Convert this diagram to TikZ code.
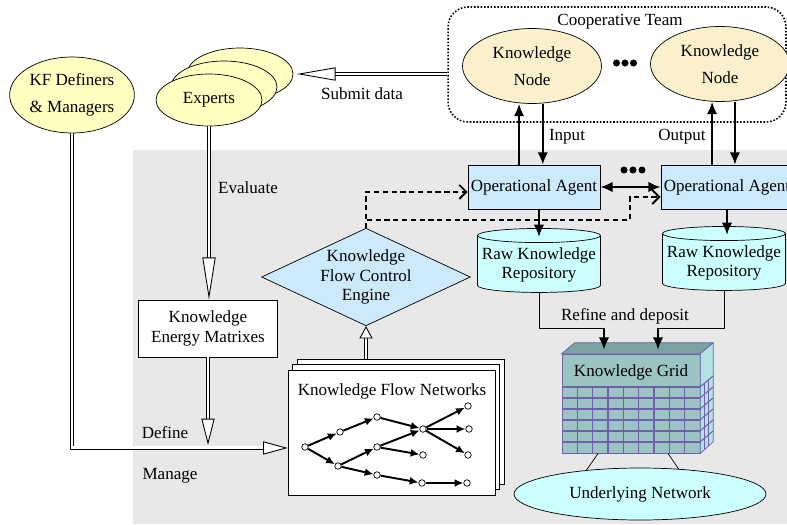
\documentclass[tikz,border=0pt]{standalone}
\usepackage{fontspec}
\setmainfont{Liberation Serif}
\usepackage{tikz}
\usetikzlibrary{shapes.geometric,
                calc, %for offsets from anchors
                arrows.meta, % for open and solid tips
                positioning}

\definecolor{panelgray}{HTML}{E8E8E8}
\definecolor{kfyellow}{HTML}{FFFFC2}
\definecolor{nodewheat}{HTML}{FBF0CC}
\definecolor{agentblue}{HTML}{CCEAFB}
\definecolor{repocyan}{HTML}{CCFFFF}
\definecolor{gridfront}{HTML}{9CC4C4}
\definecolor{gridtop}{HTML}{7BA3A3}
\definecolor{gridside}{HTML}{B4E2E2}
\definecolor{gridline}{HTML}{6F62AA}

\begin{document}
\begin{tikzpicture}[x=0.02cm, y=-0.02cm,
                    font=\fontsize{9.7}{11.2}\selectfont,
                    every node/.style={inner sep=1pt},
                    actor/.style={draw, ellipse, fill=kfyellow, align=center},
                    knode/.style={draw, ellipse, fill=nodewheat, align=center, minimum width=2.78cm, minimum height=1.5cm},
                    agent/.style={draw, fill=agentblue, minimum width=2.64cm, minimum height=0.88cm},
                    repo/.style={draw, cylinder, shape border rotate=90, aspect=0.12, fill=repocyan, align=center, minimum width=2.46cm, minimum height=1.28cm},
                    page/.style={draw, fill=white, minimum width=4.14cm, minimum height=2.5cm},
                    fnode/.style={draw, circle, fill=white, inner sep=0pt, minimum size=0.13cm},
                    flow/.style={-{Latex[length=5pt,width=4.5pt]}, line width=1.1pt},
                    bold/.style={-{Latex[length=7pt,width=6pt]}, line width=1.3pt},
                    ctrl/.style={dashed, dash pattern=on 3pt off 2pt, line width=1.1pt, -{Straight Barb[length=4pt,width=8pt]}},
                    hollow/.style={double, double distance=1.7pt, line width=0.5pt, -{Triangle[open, fill=white, length=#1, width=7.5pt]}},
                    hollow/.default=14pt
                    ]

    \clip (0,0) rectangle (787,524);

    % BACKGROUND PANEL %
    \fill[panelgray] (133,150) rectangle (787,524);

    % COOPERATIVE TEAM %
    \node[draw, densely dotted, line width=0.9pt, rounded corners=0.4cm,
          minimum width=6.76cm, minimum height=2.3cm] (team) at (617,64.5) {};
    \node (teamlbl) at (620,22) {Cooperative Team};
    \node[knode] (kn1) at (532,66) {Knowledge\\[4pt]Node};
    \node[knode] (kn2) at (720,64) {Knowledge\\[4pt]Node};
    \foreach \x in {-1,0,1}
    \fill (625+8.5*\x,63) circle (2pt);

    % EXPERTS AND MANAGERS %
    \foreach \x/\y/\n in {240/74/3, 224/87/2}
    \node[actor, minimum width=2.12cm, minimum height=1.04cm] (exp\n) at (\x,\y) {};
    \node[actor, minimum width=2.12cm, minimum height=1.04cm] (exp) at (209,100) {Experts};
    \node[actor, minimum width=2.46cm, minimum height=1.52cm] (kf) at (72,95) {KF Definers\\[4pt]\& Managers};

    \draw[hollow=22pt] (team.west |- exp3.east) -- ([xshift=2pt]exp3.east);
    \node (submitlbl) at (362,94) {Submit data};

    % EVALUATE AND DEFINE %
    \node[draw, fill=white, align=center, minimum width=2.78cm, minimum height=1.14cm] (kem) at (208,328.5) {Knowledge\\Energy Matrixes};
    \draw[hollow=24pt] (exp.south) -- (exp.south |- kem.north);
    \node (evallbl) at (248,188) {Evaluate};

    % KNOWLEDGE FLOW NETWORKS %
    \foreach \x/\y/\n in {400.5/421.5/3, 396/427/2, 391.5/432.5/1}
    \node[page] (kfn\n) at (\x,\y) {};
    \node (kfnlbl) at (392,391) {Knowledge Flow Networks};

    \foreach \n/\x/\y in {0/305/447, 1/340/432, 2/338/466, 3/377/417, 4/377/447, 5/377/475,
                          6/423/429, 7/423/455, 8/422/483, 9/468/406, 10/469/429, 11/468/455, 12/467/483}
    \node[fnode] (f\n) at (\x,\y) {};
    \foreach \a/\b in {0/1,0/2,1/3,2/4,2/5,3/6,4/6,4/7,5/8,6/9,6/10,6/11,8/12}
    \draw[flow] (f\a) -- (f\b);

    \coordinate (merge) at (208,445);
    \draw[hollow] (kf.south) |- ([yshift=-8.8pt]kfn1.west);
    \draw[hollow=15pt] (kem.south) -- (merge);
    \node (deflbl) at (165,433) {Define};
    \node (manlbl) at (170,476) {Manage};

    % CONTROL ENGINE %
    \node[diamond, draw, fill=agentblue, aspect=2.14, inner sep=0pt, align=center,
          minimum width=4.16cm, minimum height=1.94cm] (kfce) at (366,277) {Knowledge\\Flow Control\\Engine};
    \draw[hollow=7pt] (kfn3.north -| kfce.south) -- (kfce.south);

    % AGENTS %
    \node[agent] (oa1) at (534,187) {Operational Agent};
    \node[agent] (oa2) at (727,187) {Operational Agent};
    \draw[bold, {Latex[length=7pt,width=6pt]}-{Latex[length=7pt,width=6pt]}] (oa1.east) -- (oa2.west);
    \foreach \x in {-1,0,1}
    \fill (633+9*\x,170) circle (2pt);

    \draw[bold] ([xshift=-8.5pt]oa1.north) -- ([xshift=-8.5pt]oa1.north |- kn1.south);
    \draw[bold] ([xshift=5pt]oa1.north |- kn1.south) -- ([xshift=5pt]oa1.north);
    \draw[bold] ([xshift=-8.5pt]oa2.north) -- ([xshift=-8.5pt]oa2.north |- kn2.south);
    \draw[bold] ([xshift=4.5pt]oa2.north |- kn2.south) -- ([xshift=4.5pt]oa2.north);
    \node (inlbl) at (567,137) {Input};
    \node (outlbl) at (682,137) {Output};

    \draw[ctrl] (kfce.north) |- ([yshift=-2.8pt]oa1.west);
    \draw[ctrl] (kfce.north) -- ++(0,-8) -| ([xshift=-17.6pt,yshift=-5.7pt]oa2.west) -- ([yshift=-5.7pt]oa2.west);

    % REPOSITORIES %
    \node[repo] (rkr1) at (539,265) {Raw Knowledge\\Repository};
    \node[repo] (rkr2) at (724,263) {Raw Knowledge\\Repository};
    \draw[bold] (oa1.south -| rkr1.north) -- ([yshift=-5pt]rkr1.north);
    \draw[bold] (oa2.south) -- ([yshift=-5pt]oa2.south |- rkr2.north);

    % KNOWLEDGE GRID %
    \node[draw=gridline, fill=gridfront, minimum width=2.76cm, minimum height=1.98cm] (grid) at (631,403.5) {};
    \filldraw[draw=gridline, fill=gridtop] (grid.north west) -- ++(13,-11) -- ++(138,0) -- (grid.north east) -- cycle;
    \filldraw[draw=gridline, fill=gridside] (grid.north east) -- ++(13,-11) -- ++(0,99) -- (grid.south east) -- cycle;
    \foreach \j in {0,...,5}{
      \draw[gridline, line width=0.6pt] (562,387+11*\j) -- (700,387+11*\j);
      \draw[gridline, line width=0.6pt] (700,387+11*\j) -- ++(13,-11);
    }
    \foreach \i in {1,...,8}
    \draw[gridline, line width=0.6pt] (562+15.33*\i,387) -- (562+15.33*\i,453);
    \foreach \i in {1,2}
    \draw[gridline, line width=0.6pt] (700+4.33*\i,387-3.67*\i) -- ++(0,66);
    \node (gridlbl) at (631,372) {Knowledge Grid};

    \coordinate (dep1) at (604,328);
    \coordinate (dep2) at (658,328);
    \draw (rkr1.south) |- (dep1);
    \draw (rkr2.south) |- (dep2);
    \draw[bold] (dep1) -- ([yshift=2.3pt]dep1 |- grid.north);
    \draw[bold] (dep2) -- ([yshift=2.3pt]dep2 |- grid.north);
    \node (reflbl) at (625,316) {Refine and deposit};

    % UNDERLYING NETWORK %
    \node[draw, ellipse, fill=repocyan, minimum width=5.04cm, minimum height=1.04cm] (un) at (640,494) {Underlying Network};
    \draw ([xshift=-18.7pt]grid.south) -- (un.156);
    \draw ([xshift=21pt]grid.south) -- (un.33);
\end{tikzpicture}
\end{document}
